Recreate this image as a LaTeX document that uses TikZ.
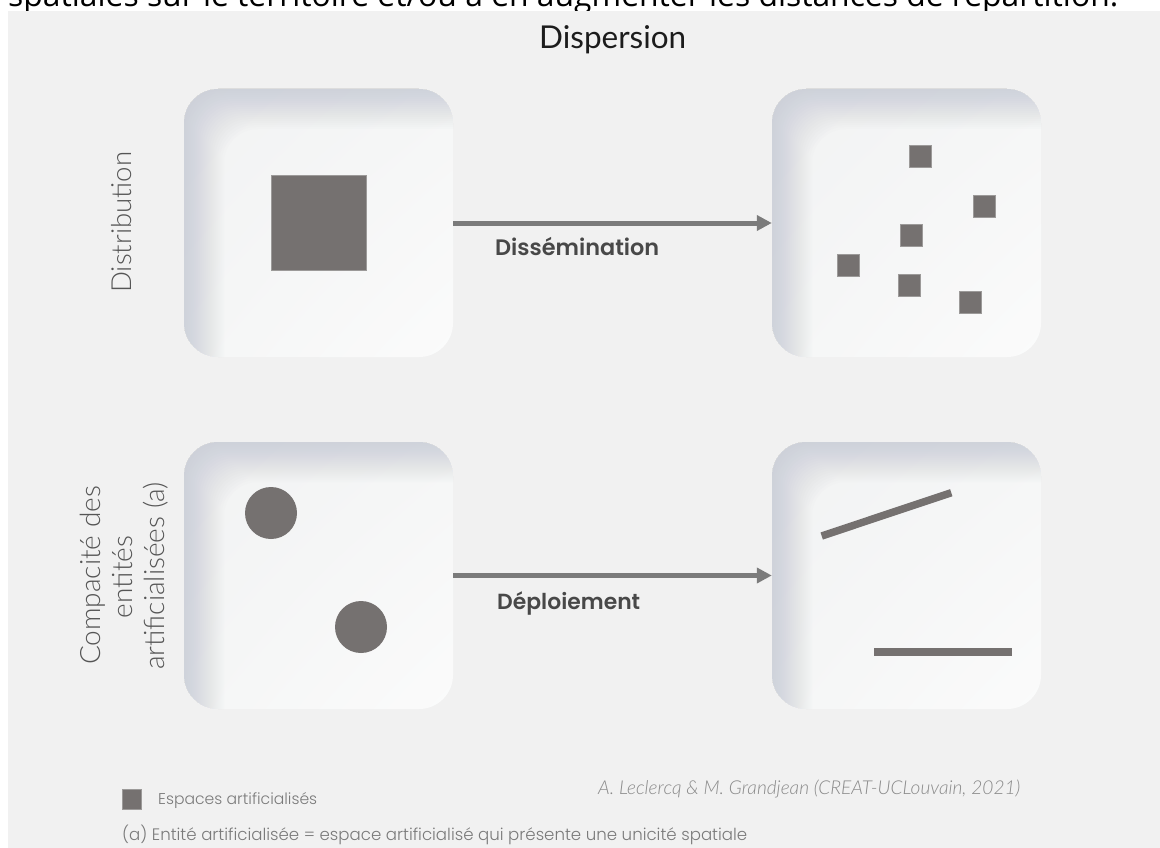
\documentclass[tikz,border=0pt]{standalone}
\usepackage{fontspec}
\usepackage{graphicx}
\usetikzlibrary{arrows.meta,shadings}
\setmainfont{Lato}
\IfFontExistsTF{Lato Light}{\newfontfamily\lightfont{Lato Light}}{\newfontfamily\lightfont{Lato}}
\IfFontExistsTF{Lato Light Italic}{\newfontfamily\lightit{Lato Light Italic}}{\newcommand\lightit{\itshape}}
\IfFontExistsTF{Poppins SemiBold}{\newfontfamily\popmed{Poppins SemiBold}}{\IfFontExistsTF{Poppins Medium}{\newfontfamily\popmed{Poppins Medium}}{\newfontfamily\popmed{Poppins}}}
\IfFontExistsTF{Poppins Light}{\newfontfamily\poplight{Poppins Light}}{\newfontfamily\poplight{Poppins}}
\newfontfamily\opensans{Open Sans}

\definecolor{bggray}{HTML}{F1F1F1}
\definecolor{shapec}{HTML}{757170}
\definecolor{shapeborder}{HTML}{9C9A99}
\definecolor{arrowc}{HTML}{7B7B7B}
\definecolor{shadowc}{HTML}{B4BAC9}
\definecolor{inA}{HTML}{F1F2F3}
\definecolor{inB}{HTML}{F5F6F6}
\definecolor{inC}{HTML}{FBFBFB}
\definecolor{labelc}{HTML}{484848}
\definecolor{axisc}{HTML}{555555}
\definecolor{footc}{HTML}{7A7A7A}
\definecolor{credc}{HTML}{8A8A8A}
\definecolor{titlec}{HTML}{1C1C1C}

\newcommand\softbox[5]{%
  \begin{scope}
    \clip[rounded corners=34pt] (#2,#3) rectangle (#4,#5);
    \shade[upper left=inA, upper right=inB, lower left=inB, lower right=inC] (#2,#3) rectangle (#4,#5);
    \foreach \d in {2,4,...,40} {
      \fill[shadowc, opacity=0.032, even odd rule, rounded corners=34pt]
        (#2-1,#3-1) rectangle (#4+1,#5+1) (#2+\d,#3+\d) rectangle (#4+40,#5+40);
    }
  \end{scope}
  \node[inner sep=0, minimum width={(#4-#2)*1pt}, minimum height={(#5-#3)*1pt}] (#1) at ({(#2+#4)/2},{(#3+#5)/2}) {};
}

\tikzset{
  flow/.style={draw=arrowc, line width=5pt, -{Triangle[length=15pt,width=15pt]}},
  sq/.style={fill=shapec, draw=shapeborder, line width=0.7pt, inner sep=0, minimum size=22pt},
  dot/.style={circle, fill=shapec, inner sep=0, minimum size=52pt},
  bar/.style={draw=shapec, line width=7.5pt},
  axislabel/.style={rotate=90, anchor=base, inner sep=0, text=axisc, font=\lightfont\fontsize{28}{32}\selectfont},
  flowlabel/.style={anchor=base west, inner sep=0, text=labelc},
  foot/.style={anchor=base west, inner sep=0, text=footc},
}

\begin{document}
\begin{tikzpicture}[x=1pt, y=-1pt]
\useasboundingbox (0,0) rectangle (1160,848);
\fill[white] (0,0) rectangle (1160,848);
\begin{scope}
  \clip (0,0) rectangle (1160,848);
  \node[anchor=base west, inner sep=0, text=black] (cut) at (8,6.8)
    {\resizebox{1110pt}{!}{\opensans spatiales sur le territoire et/ou à en augmenter les distances de répartition.}};
\end{scope}
\fill[bggray] (8,11) rectangle (1160,848);

% title
\node[anchor=base west, inner sep=0, text=titlec] (title) at (539,49) {\resizebox{147pt}{!}{Dispersion}};

% boxes
\softbox{b1}{184}{89}{453}{357}
\softbox{b2}{772}{89}{1041}{357}
\softbox{b3}{184}{442}{453}{709}
\softbox{b4}{772}{442}{1041}{709}

% contents
\node[fill=shapec, draw=shapeborder, line width=0.7pt, inner sep=0, minimum size=95pt] (big) at (318.5,222.5) {};
\node[sq] (s1) at (920.3,156.5) {};
\node[sq] (s2) at (984.8,206) {};
\node[sq] (s3) at (911.5,235.2) {};
\node[sq] (s4) at (848.8,265.7) {};
\node[sq] (s5) at (909.5,285.2) {};
\node[sq] (s6) at (970.2,302.2) {};
\node[dot] (c1) at (271,513) {};
\node[dot] (c2) at (361,627) {};
\coordinate (p1) at (821.7,536);
\coordinate (p2) at (951.3,492.7);
\coordinate (q1) at (874.3,652);
\coordinate (q2) at (1012.3,652);
\draw[bar] (p1) -- (p2);
\draw[bar] (q1) -- (q2);

% arrows
\draw[flow] (b1.east) -- (b2.west);
\draw[flow] (b3.east) -- (b4.west);
\node[flowlabel] (l1) at (495,255) {\resizebox{164pt}{!}{\popmed Dissémination}};
\node[flowlabel] (l2) at (497,609) {\resizebox{143pt}{!}{\popmed Déploiement}};

% axis labels
\node[rotate=90, anchor=base west, inner sep=0, text=axisc] (dist) at (131,293) {\resizebox{141pt}{!}{\lightfont Distribution}};
\node[axislabel] (r1) at (100,575.5) {Compacité des};
\node[axislabel] (r2) at (132,577) {entités};
\node[axislabel] (r3) at (164,576) {artificialisées (a)};

% footer
\node[fill=shapec, draw=shapeborder, line width=0.6pt, inner sep=0, minimum width=19pt, minimum height=20pt] (leg) at (132,799.5) {};
\node[foot] (legt) at (158,804) {\resizebox{159pt}{!}{\poplight Espaces artificialisés}};
\node[foot] (note) at (122,840) {\resizebox{625pt}{!}{\poplight (a) Entité artificialisée = espace artificialisé qui présente une unicité spatiale}};
\node[anchor=base west, inner sep=0, text=credc] (cred) at (598,794) {\resizebox{422pt}{!}{\lightit A. Leclercq \& M. Grandjean (CREAT-UCLouvain, 2021)}};
\end{tikzpicture}
\end{document}
